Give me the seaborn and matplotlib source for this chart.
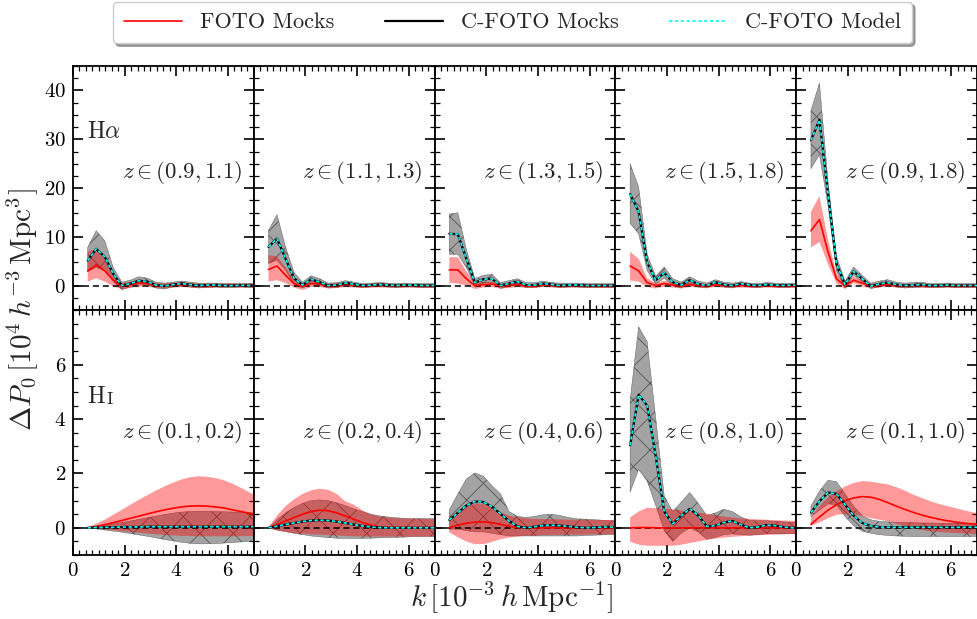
import matplotlib
matplotlib.use("Agg")
import matplotlib.pyplot as plt
from matplotlib.lines import Line2D
from matplotlib.ticker import MultipleLocator, FixedLocator
import numpy as np
import seaborn as sns

# ---------------------------------------------------------------- data
# wavenumber bins [1e-3 h/Mpc]
k_halpha = [0.57, 0.90, 1.23, 1.56, 1.89, 2.22, 2.55, 2.88, 3.21, 3.54, 3.87,
            4.20, 4.53, 4.86, 5.19, 5.52, 5.85, 6.18, 6.51, 6.84, 7.17]
k_hi = [0.57, 0.90, 1.23, 1.56, 1.89, 2.22, 2.55, 2.88, 3.21, 3.54, 3.87,
        4.20, 4.53, 4.86, 5.19, 5.52, 5.85, 6.18, 6.51, 6.84, 7.17]

ha_zbins = ["(0.9, 1.1)", "(1.1, 1.3)", "(1.3, 1.5)", "(1.5, 1.8)", "(0.9, 1.8)"]
hi_zbins = ["(0.1, 0.2)", "(0.2, 0.4)", "(0.4, 0.6)", "(0.8, 1.0)", "(0.1, 1.0)"]

# tick values shown on the y axes
ha_yticks = [0, 10, 20, 30, 40]
hi_yticks = [0, 2, 4, 6]

# H-alpha, z in (0.9, 1.1)
ha1_foto = [3.1, 4.3, 3.1, 1.2, 0.0, 0.3, 0.6, 0.5, 0.1, 0.0, 0.2, 0.3, 0.2, 0.1, 0.1, 0.1, 0.1, 0.1, 0.1, 0.1, 0.1]
ha1_foto_hi = [7.0, 7.7, 5.6, 2.4, 0.6, 0.9, 1.2, 1.1, 0.6, 0.5, 0.7, 0.8, 0.6, 0.5, 0.5, 0.5, 0.5, 0.5, 0.5, 0.5, 0.5]
ha1_foto_lo = [0.9, 1.6, 0.9, 0.0, -0.7, -0.4, -0.1, -0.1, -0.4, -0.5, -0.3, -0.2, -0.3, -0.4, -0.4, -0.3, -0.3, -0.3, -0.3, -0.3, -0.3]
ha1_cfoto = [5.2, 7.6, 6.0, 2.5, 0.1, 0.5, 1.1, 0.9, 0.2, 0.0, 0.3, 0.5, 0.3, 0.1, 0.2, 0.2, 0.1, 0.1, 0.15, 0.1, 0.1]
ha1_cfoto_hi = [7.9, 11.3, 9.3, 3.8, 0.8, 1.2, 1.9, 1.6, 0.8, 0.6, 0.8, 1.0, 0.8, 0.6, 0.6, 0.6, 0.5, 0.5, 0.5, 0.5, 0.5]
ha1_cfoto_lo = [2.9, 3.8, 3.2, 1.0, -0.7, -0.2, 0.4, 0.3, -0.4, -0.6, -0.2, 0.0, -0.2, -0.4, -0.3, -0.2, -0.3, -0.3, -0.2, -0.3, -0.3]
ha1_model = [5.2, 7.6, 6.0, 2.5, 0.1, 0.5, 1.1, 0.9, 0.2, 0.0, 0.3, 0.5, 0.3, 0.1, 0.2, 0.2, 0.1, 0.1, 0.15, 0.1, 0.1]

# H-alpha, z in (1.1, 1.3)
ha2_foto = [3.4, 4.1, 2.2, 0.5, -0.1, 0.5, 0.4, 0.0, 0.1, 0.3, 0.2, 0.0, 0.1, 0.1, 0.1, 0.0, 0.1, 0.1, 0.0, 0.0, 0.0]
ha2_foto_hi = [6.3, 6.1, 3.8, 1.3, 0.5, 1.1, 0.9, 0.5, 0.6, 0.7, 0.6, 0.4, 0.5, 0.5, 0.5, 0.4, 0.5, 0.4, 0.4, 0.4, 0.4]
ha2_foto_lo = [0.9, 1.2, 0.6, -0.3, -0.8, -0.2, -0.2, -0.5, -0.4, -0.2, -0.3, -0.4, -0.3, -0.3, -0.3, -0.4, -0.3, -0.3, -0.4, -0.4, -0.4]
ha2_cfoto = [8.0, 9.7, 5.6, 1.6, 0.2, 1.4, 0.8, 0.1, 0.2, 0.6, 0.4, 0.1, 0.2, 0.3, 0.2, 0.1, 0.2, 0.2, 0.1, 0.1, 0.1]
ha2_cfoto_hi = [11.4, 14.6, 8.0, 2.8, 0.8, 2.1, 1.5, 0.6, 0.7, 1.1, 0.8, 0.5, 0.6, 0.7, 0.6, 0.5, 0.6, 0.5, 0.5, 0.5, 0.5]
ha2_cfoto_lo = [4.6, 5.3, 3.2, 0.4, -0.4, 0.7, 0.2, -0.4, -0.3, 0.1, -0.1, -0.3, -0.2, -0.1, -0.2, -0.3, -0.2, -0.2, -0.3, -0.3, -0.3]
ha2_model = [8.0, 9.7, 5.6, 1.6, 0.2, 1.4, 0.8, 0.1, 0.2, 0.6, 0.4, 0.1, 0.2, 0.3, 0.2, 0.1, 0.2, 0.2, 0.1, 0.1, 0.1]

# H-alpha, z in (1.3, 1.5)
ha3_foto = [3.3, 3.3, 1.5, 0.1, 0.3, 0.4, 0.0, 0.1, 0.3, 0.0, 0.0, 0.2, 0.1, 0.0, 0.1, 0.1, 0.0, 0.0, 0.0, 0.0, 0.0]
ha3_foto_hi = [5.9, 5.9, 3.0, 0.8, 0.8, 0.9, 0.5, 0.6, 0.7, 0.4, 0.4, 0.6, 0.5, 0.4, 0.4, 0.4, 0.4, 0.4, 0.4, 0.4, 0.4]
ha3_foto_lo = [0.7, 0.5, 0.1, -0.6, -0.3, -0.2, -0.5, -0.4, -0.2, -0.4, -0.4, -0.2, -0.3, -0.4, -0.3, -0.3, -0.4, -0.4, -0.4, -0.4, -0.4]
ha3_cfoto = [10.7, 10.6, 5.6, 0.7, 1.4, 1.5, 0.1, 0.5, 0.9, 0.2, 0.2, 0.5, 0.3, 0.1, 0.2, 0.2, 0.1, 0.1, 0.1, 0.1, 0.1]
ha3_cfoto_hi = [14.7, 15.0, 7.5, 1.5, 2.2, 2.4, 0.7, 1.1, 1.5, 0.7, 0.7, 1.0, 0.7, 0.6, 0.6, 0.6, 0.5, 0.5, 0.5, 0.5, 0.5]
ha3_cfoto_lo = [6.5, 6.5, 3.8, 0.0, 0.6, 0.7, -0.5, -0.1, 0.3, -0.3, -0.3, 0.0, -0.1, -0.3, -0.2, -0.2, -0.3, -0.3, -0.3, -0.3, -0.3]
ha3_model = [10.7, 10.6, 5.6, 0.7, 1.4, 1.5, 0.1, 0.5, 0.9, 0.2, 0.2, 0.5, 0.3, 0.1, 0.2, 0.2, 0.1, 0.1, 0.1, 0.1, 0.1]

# H-alpha, z in (1.5, 1.8)
ha4_foto = [4.1, 3.1, 0.7, 0.1, 0.5, 0.2, 0.0, 0.3, 0.1, 0.0, 0.2, 0.1, 0.0, 0.1, 0.0, 0.0, 0.1, 0.0, 0.0, 0.0, 0.0]
ha4_foto_hi = [7.0, 5.6, 1.6, 0.6, 1.1, 0.7, 0.5, 0.8, 0.5, 0.4, 0.6, 0.5, 0.4, 0.5, 0.4, 0.4, 0.4, 0.4, 0.4, 0.4, 0.4]
ha4_foto_lo = [1.1, 0.9, -0.2, -0.5, -0.1, -0.3, -0.5, -0.2, -0.3, -0.4, -0.2, -0.3, -0.4, -0.3, -0.4, -0.4, -0.3, -0.4, -0.4, -0.4, -0.4]
ha4_cfoto = [18.8, 15.2, 4.8, 1.2, 2.7, 0.8, 0.2, 1.2, 0.4, 0.1, 0.8, 0.3, 0.1, 0.5, 0.2, 0.1, 0.3, 0.2, 0.1, 0.2, 0.1]
ha4_cfoto_hi = [25.0, 20.3, 6.5, 2.0, 3.9, 1.5, 0.8, 1.9, 1.0, 0.6, 1.3, 0.8, 0.6, 0.9, 0.6, 0.5, 0.7, 0.6, 0.5, 0.6, 0.5]
ha4_cfoto_lo = [12.8, 10.7, 3.2, 0.4, 1.6, 0.1, -0.4, 0.6, -0.2, -0.4, 0.3, -0.2, -0.4, 0.1, -0.2, -0.3, -0.1, -0.2, -0.3, -0.2, -0.3]
ha4_model = [18.8, 15.2, 4.8, 1.2, 2.7, 0.8, 0.2, 1.2, 0.4, 0.1, 0.8, 0.3, 0.1, 0.5, 0.2, 0.1, 0.3, 0.2, 0.1, 0.2, 0.1]

# H-alpha, z in (0.9, 1.8)
ha5_foto = [11.3, 13.6, 7.0, 1.5, 0.0, 1.2, 0.6, 0.0, 0.1, 0.3, 0.1, 0.0, 0.1, 0.1, 0.0, 0.0, 0.1, 0.0, 0.0, 0.0, 0.0]
ha5_foto_hi = [15.2, 18.4, 9.5, 2.5, 0.6, 2.0, 1.2, 0.5, 0.5, 0.7, 0.5, 0.4, 0.5, 0.5, 0.4, 0.4, 0.5, 0.4, 0.4, 0.4, 0.4]
ha5_foto_lo = [7.9, 9.0, 4.5, 0.5, -0.6, 0.6, 0.0, -0.5, -0.3, -0.1, -0.3, -0.4, -0.3, -0.3, -0.4, -0.4, -0.3, -0.4, -0.4, -0.4, -0.4]
ha5_cfoto = [29.8, 34.0, 19.0, 4.5, 0.3, 3.0, 1.5, 0.0, 0.4, 0.7, 0.3, 0.1, 0.2, 0.3, 0.1, 0.1, 0.2, 0.1, 0.1, 0.1, 0.1]
ha5_cfoto_hi = [35.9, 41.5, 21.5, 6.0, 1.0, 3.9, 2.2, 0.6, 1.0, 1.3, 0.8, 0.6, 0.7, 0.8, 0.5, 0.5, 0.6, 0.5, 0.5, 0.5, 0.5]
ha5_cfoto_lo = [24.0, 26.9, 16.5, 3.0, -0.4, 2.3, 0.9, -0.5, -0.2, 0.2, -0.2, -0.4, -0.3, -0.2, -0.3, -0.3, -0.2, -0.3, -0.3, -0.3, -0.3]
ha5_model = [29.8, 34.0, 19.0, 4.5, 0.3, 3.0, 1.5, 0.0, 0.4, 0.7, 0.3, 0.1, 0.2, 0.3, 0.1, 0.1, 0.2, 0.1, 0.1, 0.1, 0.1]

# HI, z in (0.1, 0.2)
hi1_foto = [0.0, 0.05, 0.12, 0.19, 0.27, 0.35, 0.43, 0.51, 0.59, 0.66, 0.72, 0.77, 0.80, 0.81, 0.80, 0.77, 0.73, 0.66, 0.60, 0.53, 0.47]
hi1_foto_hi = [0.02, 0.15, 0.30, 0.48, 0.66, 0.85, 1.03, 1.20, 1.37, 1.52, 1.66, 1.78, 1.86, 1.90, 1.88, 1.83, 1.75, 1.62, 1.47, 1.30, 1.15]
hi1_foto_lo = [-0.01, -0.03, -0.06, -0.09, -0.12, -0.15, -0.18, -0.21, -0.24, -0.26, -0.28, -0.30, -0.30, -0.31, -0.31, -0.31, -0.31, -0.31, -0.31, -0.30, -0.30]
hi1_cfoto = [0.0, 0.01, 0.02, 0.02, 0.03, 0.03, 0.03, 0.04, 0.04, 0.04, 0.04, 0.04, 0.04, 0.04, 0.04, 0.04, 0.04, 0.04, 0.04, 0.04, 0.04]
hi1_cfoto_hi = [0.0, 0.05, 0.10, 0.15, 0.20, 0.25, 0.31, 0.37, 0.43, 0.49, 0.54, 0.58, 0.60, 0.61, 0.61, 0.60, 0.59, 0.58, 0.57, 0.56, 0.55]
hi1_cfoto_lo = [0.0, -0.04, -0.08, -0.12, -0.16, -0.21, -0.26, -0.31, -0.37, -0.43, -0.48, -0.53, -0.57, -0.59, -0.59, -0.58, -0.56, -0.54, -0.52, -0.50, -0.48]
hi1_model = [0.0, 0.01, 0.02, 0.02, 0.03, 0.03, 0.03, 0.04, 0.04, 0.04, 0.04, 0.04, 0.04, 0.04, 0.04, 0.04, 0.04, 0.04, 0.04, 0.04, 0.04]

# HI, z in (0.2, 0.4)
hi2_foto = [0.0, 0.12, 0.25, 0.38, 0.50, 0.60, 0.65, 0.63, 0.55, 0.44, 0.32, 0.20, 0.10, 0.03, 0.0, 0.0, 0.0, 0.0, 0.0, 0.0, 0.0]
hi2_foto_hi = [0.02, 0.45, 0.80, 1.05, 1.25, 1.38, 1.44, 1.40, 1.25, 0.98, 0.85, 0.65, 0.50, 0.42, 0.38, 0.35, 0.34, 0.33, 0.33, 0.32, 0.32]
hi2_foto_lo = [-0.02, -0.10, -0.15, -0.20, -0.22, -0.24, -0.25, -0.27, -0.28, -0.30, -0.31, -0.32, -0.32, -0.32, -0.32, -0.32, -0.32, -0.32, -0.32, -0.32, -0.32]
hi2_cfoto = [0.0, 0.06, 0.12, 0.18, 0.23, 0.27, 0.28, 0.27, 0.23, 0.18, 0.12, 0.07, 0.03, 0.01, 0.0, 0.0, 0.0, 0.0, 0.0, 0.0, 0.0]
hi2_cfoto_hi = [0.0, 0.30, 0.55, 0.75, 0.90, 1.00, 1.03, 1.00, 0.92, 0.82, 0.70, 0.60, 0.50, 0.44, 0.40, 0.37, 0.35, 0.34, 0.34, 0.34, 0.34]
hi2_cfoto_lo = [0.0, -0.08, -0.14, -0.20, -0.25, -0.30, -0.33, -0.36, -0.38, -0.39, -0.39, -0.39, -0.38, -0.37, -0.36, -0.35, -0.34, -0.33, -0.32, -0.32, -0.32]
hi2_model = [0.0, 0.06, 0.12, 0.18, 0.23, 0.27, 0.28, 0.27, 0.23, 0.18, 0.12, 0.07, 0.03, 0.01, 0.0, 0.0, 0.0, 0.0, 0.0, 0.0, 0.0]

# HI, z in (0.4, 0.6)
hi3_foto = [0.0, 0.10, 0.17, 0.21, 0.22, 0.19, 0.13, 0.06, 0.01, 0.0, 0.0, 0.0, 0.0, 0.0, 0.0, 0.0, 0.0, 0.0, 0.0, 0.0, 0.0]
hi3_foto_hi = [0.38, 0.60, 0.80, 0.90, 0.88, 0.75, 0.58, 0.45, 0.38, 0.35, 0.33, 0.32, 0.32, 0.31, 0.30, 0.30, 0.30, 0.29, 0.29, 0.29, 0.29]
hi3_foto_lo = [-0.17, -0.35, -0.50, -0.60, -0.60, -0.52, -0.42, -0.36, -0.32, -0.29, -0.28, -0.27, -0.26, -0.26, -0.25, -0.25, -0.25, -0.24, -0.24, -0.24, -0.24]
hi3_cfoto = [0.29, 0.55, 0.82, 0.97, 0.95, 0.78, 0.52, 0.25, 0.05, 0.0, 0.04, 0.09, 0.10, 0.08, 0.05, 0.02, 0.0, 0.01, 0.03, 0.03, 0.03]
hi3_cfoto_hi = [0.66, 1.25, 1.80, 2.02, 1.90, 1.55, 1.25, 0.60, 0.42, 0.38, 0.42, 0.48, 0.50, 0.45, 0.38, 0.33, 0.32, 0.30, 0.28, 0.26, 0.26]
hi3_cfoto_lo = [-0.05, -0.05, -0.10, -0.15, -0.15, -0.20, -0.25, -0.30, -0.30, -0.30, -0.30, -0.30, -0.30, -0.30, -0.30, -0.30, -0.28, -0.27, -0.26, -0.25, -0.25]
hi3_model = [0.29, 0.55, 0.82, 0.97, 0.95, 0.78, 0.52, 0.25, 0.05, 0.0, 0.04, 0.09, 0.10, 0.08, 0.05, 0.02, 0.0, 0.01, 0.03, 0.03, 0.03]

# HI, z in (0.8, 1.0)
hi4_foto = [0.0, 0.01, 0.01, 0.0, 0.0, -0.01, 0.0, 0.0, 0.0, 0.0, 0.0, 0.0, 0.0, 0.0, 0.0, 0.0, 0.0, 0.0, 0.0, 0.0, 0.0]
hi4_foto_hi = [0.38, 0.60, 0.74, 0.72, 0.70, 0.68, 0.64, 0.60, 0.56, 0.52, 0.46, 0.42, 0.38, 0.35, 0.33, 0.31, 0.30, 0.28, 0.27, 0.26, 0.25]
hi4_foto_lo = [-0.51, -0.62, -0.66, -0.66, -0.66, -0.66, -0.62, -0.56, -0.50, -0.44, -0.40, -0.36, -0.33, -0.31, -0.29, -0.27, -0.26, -0.25, -0.24, -0.23, -0.23]
hi4_cfoto = [3.04, 4.90, 4.50, 2.65, 0.60, 0.15, 0.45, 0.70, 0.45, 0.05, 0.08, 0.20, 0.25, 0.12, 0.0, 0.03, 0.10, 0.08, 0.03, 0.0, 0.0]
hi4_cfoto_hi = [4.70, 7.40, 6.85, 4.05, 1.17, 0.60, 0.95, 1.30, 0.90, 0.45, 0.55, 0.68, 0.60, 0.40, 0.27, 0.26, 0.26, 0.24, 0.22, 0.20, 0.20]
hi4_cfoto_lo = [1.32, 2.15, 1.72, 0.83, -0.10, -0.50, -0.20, 0.0, -0.15, -0.42, -0.35, -0.25, -0.22, -0.25, -0.27, -0.25, -0.22, -0.22, -0.22, -0.22, -0.22]
hi4_model = [3.04, 4.90, 4.50, 2.65, 0.60, 0.15, 0.45, 0.70, 0.45, 0.05, 0.08, 0.20, 0.25, 0.12, 0.0, 0.03, 0.10, 0.08, 0.03, 0.0, 0.0]

# HI, z in (0.1, 1.0)
hi5_foto = [0.13, 0.40, 0.65, 0.85, 1.00, 1.10, 1.15, 1.13, 1.05, 0.93, 0.80, 0.68, 0.57, 0.47, 0.39, 0.32, 0.26, 0.21, 0.17, 0.14, 0.12]
hi5_foto_hi = [0.38, 0.80, 1.12, 1.35, 1.52, 1.65, 1.72, 1.70, 1.65, 1.60, 1.50, 1.37, 1.22, 1.10, 0.98, 0.88, 0.80, 0.72, 0.64, 0.57, 0.52]
hi5_foto_lo = [0.07, 0.20, 0.35, 0.48, 0.50, 0.48, 0.44, 0.36, 0.30, 0.24, 0.15, 0.05, -0.02, -0.08, -0.12, -0.15, -0.17, -0.19, -0.21, -0.23, -0.24]
hi5_cfoto = [0.56, 0.98, 1.30, 1.25, 0.85, 0.45, 0.18, 0.07, 0.03, 0.02, 0.02, 0.02, 0.02, 0.02, 0.02, 0.02, 0.02, 0.02, 0.02, 0.02, 0.02]
hi5_cfoto_hi = [0.80, 1.35, 1.75, 1.70, 1.25, 0.80, 0.45, 0.30, 0.24, 0.22, 0.20, 0.20, 0.19, 0.18, 0.18, 0.17, 0.17, 0.17, 0.17, 0.17, 0.17]
hi5_cfoto_lo = [0.41, 0.65, 0.88, 0.85, 0.42, 0.08, -0.12, -0.20, -0.25, -0.28, -0.30, -0.31, -0.32, -0.32, -0.32, -0.32, -0.32, -0.32, -0.32, -0.32, -0.32]
hi5_model = [0.56, 0.98, 1.30, 1.25, 0.85, 0.45, 0.18, 0.07, 0.03, 0.02, 0.02, 0.02, 0.02, 0.02, 0.02, 0.02, 0.02, 0.02, 0.02, 0.02, 0.02]

# ---------------------------------------------------------------- style
sns.set_style("ticks")
plt.rcParams.update({
    "font.family": "serif",
    "font.serif": ["cmr10", "DejaVu Serif"],
    "mathtext.fontset": "cm",
    "axes.formatter.use_mathtext": True,
    "axes.linewidth": 1.3,
    "hatch.linewidth": 0.6,
})

RED = "red"
GREY_HATCH = "#555555"

panels = [
    [(k_halpha, ha1_foto, ha1_foto_lo, ha1_foto_hi, ha1_cfoto, ha1_cfoto_lo, ha1_cfoto_hi, ha1_model, ha_zbins[0]),
     (k_halpha, ha2_foto, ha2_foto_lo, ha2_foto_hi, ha2_cfoto, ha2_cfoto_lo, ha2_cfoto_hi, ha2_model, ha_zbins[1]),
     (k_halpha, ha3_foto, ha3_foto_lo, ha3_foto_hi, ha3_cfoto, ha3_cfoto_lo, ha3_cfoto_hi, ha3_model, ha_zbins[2]),
     (k_halpha, ha4_foto, ha4_foto_lo, ha4_foto_hi, ha4_cfoto, ha4_cfoto_lo, ha4_cfoto_hi, ha4_model, ha_zbins[3]),
     (k_halpha, ha5_foto, ha5_foto_lo, ha5_foto_hi, ha5_cfoto, ha5_cfoto_lo, ha5_cfoto_hi, ha5_model, ha_zbins[4])],
    [(k_hi, hi1_foto, hi1_foto_lo, hi1_foto_hi, hi1_cfoto, hi1_cfoto_lo, hi1_cfoto_hi, hi1_model, hi_zbins[0]),
     (k_hi, hi2_foto, hi2_foto_lo, hi2_foto_hi, hi2_cfoto, hi2_cfoto_lo, hi2_cfoto_hi, hi2_model, hi_zbins[1]),
     (k_hi, hi3_foto, hi3_foto_lo, hi3_foto_hi, hi3_cfoto, hi3_cfoto_lo, hi3_cfoto_hi, hi3_model, hi_zbins[2]),
     (k_hi, hi4_foto, hi4_foto_lo, hi4_foto_hi, hi4_cfoto, hi4_cfoto_lo, hi4_cfoto_hi, hi4_model, hi_zbins[3]),
     (k_hi, hi5_foto, hi5_foto_lo, hi5_foto_hi, hi5_cfoto, hi5_cfoto_lo, hi5_cfoto_hi, hi5_model, hi_zbins[4])],
]

fig, axes = plt.subplots(2, 5, figsize=(9.78, 6.19), dpi=100, sharex=True, sharey="row")
fig.subplots_adjust(left=0.0746, right=0.999, top=0.8934, bottom=0.1034,
                    wspace=0.0, hspace=0.0)

ylims = [(-5, 45), (-1, 8)]
yticks = [ha_yticks, hi_yticks]
ymin = [2.5, 0.5]
z_ypos = [0.565, 0.50]

for r in range(2):
    for c in range(5):
        ax = axes[r, c]
        k, foto, foto_lo, foto_hi, cfoto, cfoto_lo, cfoto_hi, model, zlab = panels[r][c]

        # C-FOTO mock scatter: hatched grey band
        ax.fill_between(k, cfoto_lo, cfoto_hi, facecolor=(0, 0, 0, 0.36),
                        edgecolor=GREY_HATCH, hatch="x", linewidth=0.3, zorder=1)
        # FOTO mock scatter: translucent red band
        ax.fill_between(k, foto_lo, foto_hi, facecolor=(1, 0, 0, 0.4),
                        edgecolor="none", linewidth=0, zorder=2)

        ax.axhline(0, color="k", ls=(0, (4, 2.5)), lw=1.1, zorder=3)

        sns.lineplot(x=k, y=foto, ax=ax, color=RED, lw=1.2, zorder=4,
                     estimator=None, sort=False)
        sns.lineplot(x=k, y=cfoto, ax=ax, color="k", lw=1.6, zorder=5,
                     estimator=None, sort=False)
        sns.lineplot(x=k, y=model, ax=ax, color="cyan", lw=1.2, zorder=6,
                     estimator=None, sort=False, linestyle=(0, (2, 1.5)))

        ax.set_xlim(0, 7)
        ax.set_ylim(*ylims[r])
        ax.xaxis.set_major_locator(MultipleLocator(2))
        ax.xaxis.set_minor_locator(MultipleLocator(0.25))
        ax.yaxis.set_major_locator(FixedLocator(yticks[r]))
        ax.yaxis.set_minor_locator(MultipleLocator(ymin[r]))
        ax.tick_params(which="both", direction="in", top=True, right=True,
                       labelsize=15, colors="k")
        ax.tick_params(which="major", length=7, width=1.2, pad=5)
        ax.tick_params(which="minor", length=3.5, width=0.9)
        ax.set_xlabel("")
        ax.set_ylabel("")
        for s in ax.spines.values():
            s.set_visible(True)
            s.set_color("k")

        ax.text(0.935, z_ypos[r], r"$z \in " + zlab + "$", transform=ax.transAxes,
                ha="right", va="center", fontsize=16.5)
        if c == 0:
            if r == 0:
                ax.text(0.08, 0.73, r"H$\alpha$", transform=ax.transAxes,
                        ha="left", va="center", fontsize=17)
            else:
                ax.text(0.08, 0.645, "H", transform=ax.transAxes,
                        ha="left", va="center", fontsize=17)
                ax.annotate("I", xy=(0.08, 0.645), xycoords="axes fraction",
                            xytext=(13.5, -1.2), textcoords="offset points",
                            ha="left", va="center", fontsize=12.5)
        if r == 0:
            ax.tick_params(labelbottom=False)

fig.text(0.022, 0.5, r"$\Delta P_0\,[10^4\,h^{-3}\,\mathrm{Mpc}^3]$",
         rotation=90, ha="center", va="center", fontsize=21)
fig.text(0.523, 0.035, r"$k\,[10^{-3}\,h\,\mathrm{Mpc}^{-1}]$",
         ha="center", va="center", fontsize=21)

handles = [Line2D([], [], color=RED, lw=1.2),
           Line2D([], [], color="k", lw=1.6),
           Line2D([], [], color="cyan", lw=1.2, ls=(0, (2, 1.5)))]
labels = ["FOTO Mocks", "C-FOTO Mocks", "C-FOTO Model"]
leg = fig.legend(handles, labels, loc="center", bbox_to_anchor=(0.524, 0.9636),
                 ncol=3, fontsize=16, frameon=True, fancybox=True, shadow=True,
                 framealpha=1, edgecolor="#cccccc", handlelength=2.6,
                 columnspacing=2.3, borderpad=0.5)

fig.savefig("out.png", dpi=100)
